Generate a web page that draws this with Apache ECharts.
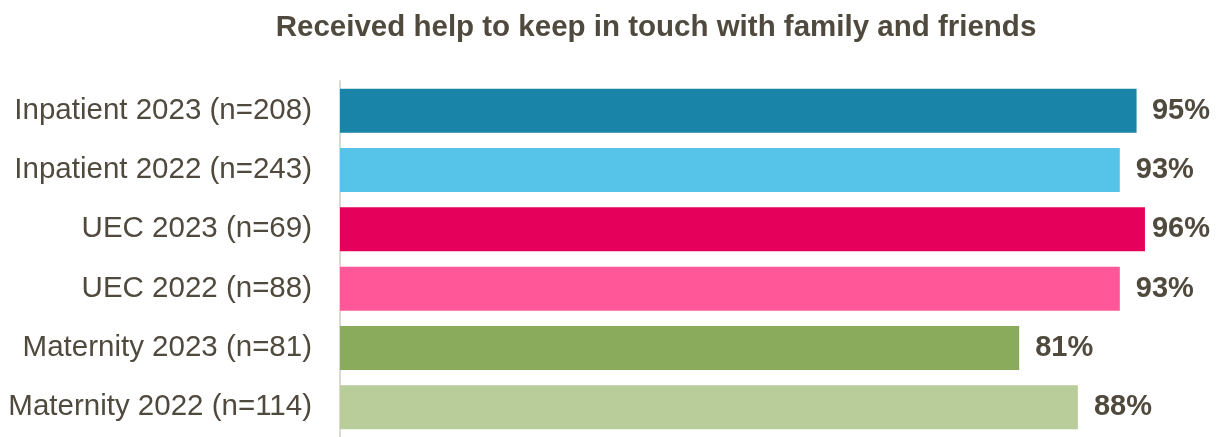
<!DOCTYPE html>
<html>
<head>
<meta charset="utf-8">
<script src="https://cdn.jsdelivr.net/npm/echarts@6/dist/echarts.min.js"></script>
<style>
  html, body { margin: 0; padding: 0; background: #ffffff; }
  #chart { width: 1224px; height: 437px; }
</style>
</head>
<body>
<div id="chart"></div>
<script>
// Survey groups, top to bottom
const categories = [
  'Inpatient 2023 (n=208)',
  'Inpatient 2022 (n=243)',
  'UEC 2023 (n=69)',
  'UEC 2022 (n=88)',
  'Maternity 2023 (n=81)',
  'Maternity 2022 (n=114)'
];
// Percentage who received help to keep in touch
const percentages = [95, 93, 96, 93, 81, 88];

const barColors = ['#1983a8', '#56c4e9', '#e4005b', '#ff5797', '#8aab5b', '#b9cd9b'];
const textColor = '#504a3e';
const fontFamily = '"Liberation Sans", Arial, sans-serif';
const chartWidth = 1224;

const chart = echarts.init(document.getElementById('chart'));

chart.setOption({
  animation: false,
  title: {
    text: 'Received help to keep in touch with family and friends',
    left: 651,
    textAlign: 'center',
    top: 8,
    textStyle: { color: textColor, fontFamily, fontSize: 29.5, fontWeight: 'bold' }
  },
  grid: { left: 340, right: 45.5, top: 81, height: 360, containLabel: false },
  xAxis: {
    type: 'value',
    min: 0,
    max: 100,
    show: false
  },
  yAxis: {
    type: 'category',
    data: categories,
    inverse: true,
    axisLine: { show: true, lineStyle: { color: '#dcd8d3', width: 2 } },
    axisTick: { show: false },
    axisLabel: { color: textColor, fontFamily, fontSize: 29.5, margin: 28 },
    splitLine: { show: false }
  },
  series: [{
    type: 'bar',
    data: percentages,
    barWidth: 44,
    itemStyle: { color: p => barColors[p.dataIndex] },
    label: {
      show: true,
      position: 'right',
      distance: 16,
      formatter: p => p.value + '%',
      color: textColor,
      fontFamily,
      fontSize: 29,
      fontWeight: 'bold'
    },
    // keep value labels inside the right edge of the chart
    labelLayout: p => {
      const r = p.labelRect;
      const limit = chartWidth - 14;
      if (r.x + r.width > limit) {
        return { x: limit - r.width, y: r.y };
      }
      return {};
    }
  }]
});
</script>
</body>
</html>
